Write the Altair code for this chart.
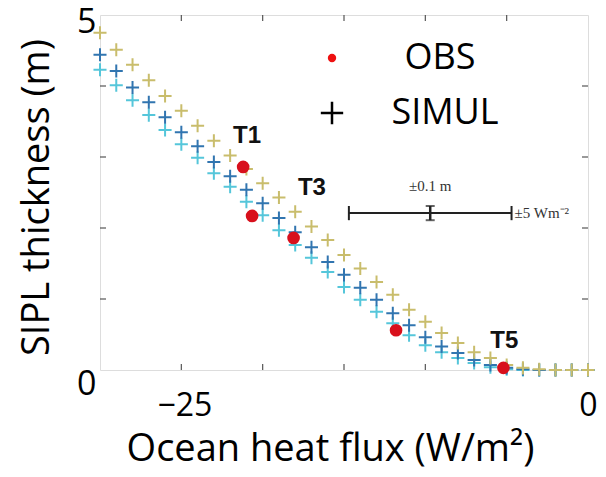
import altair as alt
import pandas as pd

# ---- data ----
flux = [-30, -29, -28, -27, -26, -25, -24, -23, -22, -21, -20, -19, -18, -17, -16,
        -15, -14, -13, -12, -11, -10, -9, -8, -7, -6, -5, -4, -3, -2, -1, 0]
sim_yellow = [4.75, 4.51, 4.30, 4.08, 3.86, 3.65, 3.44, 3.23, 3.02, 2.83, 2.63, 2.43,
              2.23, 2.02, 1.83, 1.62, 1.43, 1.24, 1.06, 0.85, 0.68, 0.52, 0.38, 0.25,
              0.17, 0.07, 0.03, 0.01, 0.0, 0.0, 0.0]
sim_blue = [4.44, 4.21, 3.98, 3.77, 3.56, 3.35, 3.15, 2.93, 2.73, 2.54, 2.35, 2.14,
            1.94, 1.73, 1.52, 1.34, 1.16, 0.99, 0.80, 0.63, 0.46, 0.33, 0.24, 0.14,
            0.07, 0.03, 0.01, 0.0, 0.0, 0.0, 0.0]
sim_cyan = [4.23, 4.01, 3.80, 3.59, 3.38, 3.18, 2.99, 2.77, 2.58, 2.37, 2.18, 1.97,
            1.76, 1.58, 1.38, 1.17, 0.99, 0.82, 0.66, 0.49, 0.35, 0.25, 0.17, 0.10,
            0.04, 0.01, 0.0, 0.0, 0.0, 0.0, 0.0]
series_names = ["cyan", "blue", "yellow"]
series_colors = ["#55c6da", "#3175b0", "#c9bd6c"]

obs_flux = [-21.2, -20.65, -18.1, -11.8, -5.2]
obs_thick = [2.86, 2.17, 1.86, 0.56, 0.03]

site_names = ["T1", "T3", "T5"]
site_flux = [-20.96, -16.97, -5.15]
site_thick = [3.30, 2.56, 0.41]

# representative uncertainty bar
err_flux_c = [-9.7]
err_thick_c = [2.21]
err_flux = [5]
err_thick = [0.1]

x_ticks = [-30, -25, -20, -15, -10, -5, 0]
y_ticks = [0, 1, 2, 3, 4, 5]
inner_x_ticks = [-25, -20, -15, -10, -5]
inner_y_ticks = [1, 2, 3, 4]

W, H = 488, 355
FONT = "Open Sans"

rows = []
for name, vals in zip(series_names, [sim_cyan, sim_blue, sim_yellow]):
    for f, v in zip(flux, vals):
        rows.append({"flux": f, "thick": v, "series": name})
sim_df = pd.DataFrame(rows)
obs_df = pd.DataFrame({"flux": obs_flux, "thick": obs_thick})
site_df = pd.DataFrame({"name": site_names, "flux": site_flux, "thick": site_thick})
err_df = pd.DataFrame({
    "xc": err_flux_c, "yc": err_thick_c,
    "xl": [err_flux_c[0] - err_flux[0]], "xr": [err_flux_c[0] + err_flux[0]],
    "yl": [err_thick_c[0] - err_thick[0]], "yh": [err_thick_c[0] + err_thick[0]],
})

xscale = alt.Scale(domain=[-30, 0], nice=False, zero=False)
yscale = alt.Scale(domain=[0, 5], nice=False, zero=False)

x_axis = alt.Axis(
    values=x_ticks, title="Ocean heat flux (W/m²)", format="d",
    labelExpr="datum.value == -25 || datum.value == 0 ? datum.label : ''",
    grid=False, domain=False, ticks=False, labelFontSize=32, labelPadding=20,
    labelFlush=False,
    labelOffset={"condition": {"test": "datum.value == 0", "value": 0}, "value": 3},
    labelFont=FONT, labelColor="#000", titleFont=FONT, titleFontSize=38,
    titleFontWeight="normal", titleColor="#000", titleX=230, titleY=90,
    titleBaseline="alphabetic", titleAnchor="middle", titleAlign="center",
)
y_axis = alt.Axis(
    values=y_ticks, title="SIPL thickness (m)", format="d",
    labelExpr="datum.value == 0 || datum.value == 5 ? datum.label : ''",
    grid=False, domain=False, ticks=False, labelFontSize=34, labelPadding=4,
    labelFont=FONT, labelColor="#000",
    labelOffset={"condition": {"test": "datum.value == 0", "value": 14}, "value": 7},
    titleFont=FONT, titleFontSize=38, titleFontWeight="normal", titleColor="#000",
    titleX=-63, titleY=182, titleBaseline="middle", titleAnchor="middle",
    titleAlign="center", titleAngle=270,
)

cross = "M-1,0L1,0M0,-1L0,1"

sim = alt.Chart(sim_df).mark_point(shape=cross, filled=False, size=170, strokeWidth=2,
                                   opacity=1).encode(
    x=alt.X("flux:Q", scale=xscale, axis=x_axis),
    y=alt.Y("thick:Q", scale=yscale, axis=y_axis),
    color=alt.Color("series:N", scale=alt.Scale(domain=series_names, range=series_colors),
                    legend=None),
    order=alt.Order("series_order:Q"),
).transform_calculate(
    series_order="indexof(['cyan','blue','yellow'], datum.series)"
)

obs = alt.Chart(obs_df).mark_point(shape="circle", filled=True, size=160, color="#d8101c",
                                   opacity=1).encode(
    x=alt.X("flux:Q", scale=xscale),
    y=alt.Y("thick:Q", scale=yscale),
)

sites = alt.Chart(site_df).mark_text(font="Liberation Sans", fontWeight="bold", fontSize=24,
                                     color="#111").encode(
    x=alt.X("flux:Q", scale=xscale),
    y=alt.Y("thick:Q", scale=yscale),
    text="name:N",
)

err_h = alt.Chart(err_df).mark_rule(color="#222", strokeWidth=2).encode(
    x=alt.X("xl:Q", scale=xscale), x2="xr:Q", y=alt.Y("yc:Q", scale=yscale))
err_capl = alt.Chart(err_df).mark_rule(color="#222", strokeWidth=2).encode(
    x=alt.X("xl:Q", scale=xscale), y=alt.Y("yl:Q", scale=yscale), y2="yh:Q")
err_capr = alt.Chart(err_df).mark_rule(color="#222", strokeWidth=2).encode(
    x=alt.X("xr:Q", scale=xscale), y=alt.Y("yl:Q", scale=yscale), y2="yh:Q")
err_v = alt.Chart(err_df).mark_rule(color="#222", strokeWidth=2.5).encode(
    x=alt.X("xc:Q", scale=xscale), y=alt.Y("yl:Q", scale=yscale), y2="yh:Q")
err_vt = alt.Chart(err_df).mark_tick(color="#222", thickness=2, size=9, orient="horizontal").encode(
    x=alt.X("xc:Q", scale=xscale), y=alt.Y("yh:Q", scale=yscale))
err_vb = alt.Chart(err_df).mark_tick(color="#222", thickness=2, size=9, orient="horizontal").encode(
    x=alt.X("xc:Q", scale=xscale), y=alt.Y("yl:Q", scale=yscale))
err_t1 = alt.Chart(err_df).mark_text(text="±0.1 m", font="Liberation Serif", fontSize=15,
                                     color="#333", dy=-27).encode(
    x=alt.X("xc:Q", scale=xscale), y=alt.Y("yc:Q", scale=yscale))
err_t2 = alt.Chart(err_df).mark_text(text="±5 Wm⁻²", font="Liberation Serif", fontSize=15,
                                     color="#333", align="left", dx=3).encode(
    x=alt.X("xr:Q", scale=xscale), y=alt.Y("yc:Q", scale=yscale))

# inward ticks on all four sides
tx = pd.DataFrame({"v": inner_x_ticks})
ty = pd.DataFrame({"v": inner_y_ticks})
tick_style = dict(color="#555", strokeWidth=1.2)
tb = alt.Chart(tx).mark_rule(**tick_style).encode(
    x=alt.X("v:Q", scale=xscale), y=alt.value(H), y2=alt.value(H - 6))
tt = alt.Chart(tx).mark_rule(**tick_style).encode(
    x=alt.X("v:Q", scale=xscale), y=alt.value(0), y2=alt.value(6))
tl = alt.Chart(ty).mark_rule(**tick_style).encode(
    y=alt.Y("v:Q", scale=yscale), x=alt.value(0), x2=alt.value(6))
tr = alt.Chart(ty).mark_rule(**tick_style).encode(
    y=alt.Y("v:Q", scale=yscale), x=alt.value(W), x2=alt.value(W - 6))

# legend (drawn in pixel space, top-right of plot)
leg_df = pd.DataFrame({"k": ["OBS"]})
leg_dot = alt.Chart(leg_df).mark_point(shape="circle", filled=True, size=70, color="#ee1111",
                                       opacity=1).encode(x=alt.value(232), y=alt.value(43))
leg_cross = alt.Chart(leg_df).mark_point(shape=cross, filled=False, size=500, strokeWidth=2.5,
                                         color="#000", opacity=1).encode(
    x=alt.value(232), y=alt.value(98))
leg_t1 = alt.Chart(leg_df).mark_text(text="OBS", font=FONT, fontSize=36, color="#000").encode(
    x=alt.value(340), y=alt.value(43))
leg_t2 = alt.Chart(leg_df).mark_text(text="SIMUL", font=FONT, fontSize=36, color="#000").encode(
    x=alt.value(345), y=alt.value(98))

chart = alt.layer(
    tb, tt, tl, tr, sim, obs, sites,
    err_h, err_capl, err_capr, err_v, err_vt, err_vb, err_t1, err_t2,
    leg_dot, leg_cross, leg_t1, leg_t2,
).properties(
    width=W, height=H,
    autosize=alt.AutoSizeParams(type="none"),
    padding={"left": 92, "top": 7, "right": 10, "bottom": 99},
).configure_view(
    stroke="#444", strokeWidth=1.5
).configure(
    background="white"
)

chart.save("out.html", embed_options={"renderer": "svg", "actions": False})
